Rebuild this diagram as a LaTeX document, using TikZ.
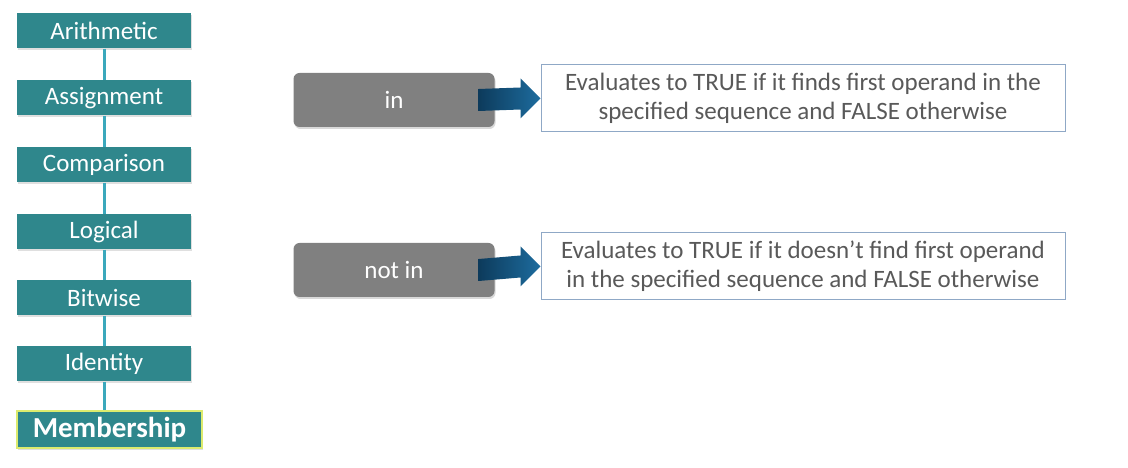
\documentclass[tikz,border=0pt]{standalone}
\usepackage{fontspec}
\setmainfont{Carlito}
\usetikzlibrary{calc,shadows}
\definecolor{opteal}{HTML}{2F878C}
\definecolor{oplink}{HTML}{3BA8BC}
\definecolor{opgray}{HTML}{808080}
\definecolor{opframe}{HTML}{8FA8C6}
\definecolor{optext}{HTML}{595959}
\definecolor{opdark}{HTML}{0D3B5C}
\definecolor{oplight}{HTML}{1D6C9E}
\definecolor{opglow}{HTML}{DCEB6E}

\tikzset{
    opbox/.style = {fill = opteal, text = white, rectangle, minimum width = 174pt, minimum height = 35pt, inner sep = 0pt, font = \fontsize{25}{30}\selectfont, drop shadow = {opacity = 0.25, shadow xshift = 1pt, shadow yshift = -2pt}},
    opsel/.style = {opbox, draw = opglow, line width = 2.5pt, minimum width = 185pt, minimum height = 37pt, font = \fontsize{29}{34}\selectfont\bfseries},
    keybox/.style = {fill = opgray, text = white, rectangle, rounded corners = 6pt, minimum width = 201pt, minimum height = 54pt, font = \fontsize{25}{30}\selectfont, drop shadow = {opacity = 0.3, shadow xshift = 1pt, shadow yshift = -2pt}},
    descbox/.style = {draw = opframe, line width = 1pt, fill = white, text = optext, rectangle, minimum width = 524pt, minimum height = 67pt, inner sep = 0pt, align = center, font = \fontsize{25}{29}\selectfont},
    link/.style = {draw = oplink, line width = 3pt},
    flow/.style = {left color = opdark, right color = oplight}
}

\begin{document}
\begin{tikzpicture}[x = 1pt, y = 1pt]
        \useasboundingbox (0, 0) rectangle (1128, 468);

        % Operator types
        \node [opbox] (arith) at (104, 437) {Arithmetic};
        \node [opbox] (assign) at (104, 370) {Assignment};
        \node [opbox] (compar) at (104, 303) {Comparison};
        \node [opbox] (logic) at (104, 236) {Logical};
        \node [opbox] (bitw) at (104, 170) {Bitwise};
        \node [opbox] (ident) at (104, 104) {Identity};
        \node [opsel] (member) at (109.5, 38.5) {Membership};

        % Links between the operator types
        \draw [link] (arith.south) -- (assign.north);
        \draw [link] (assign.south) -- (compar.north);
        \draw [link] (compar.south) -- (logic.north);
        \draw [link] (logic.south) -- (bitw.north);
        \draw [link] (bitw.south) -- (ident.north);
        \draw [link] (ident.south) -- (ident.south |- member.north);

        % Operators
        \node [keybox] (inop) at (394, 368) {in};
        \node [keybox] (notin) at (394, 198) {not in};

        % Meanings
        \node [descbox] (descin) at (803, 369.5) {Evaluates to TRUE if it finds first operand in the\\specified sequence and FALSE otherwise};
        \node [descbox] (descnot) at (803, 201.5) {Evaluates to TRUE if it doesn’t find first operand\\in the specified sequence and FALSE otherwise};

        % Arrows
        \shade [flow] ($(inop.east)+(-16, 11)$) -- ($(descin.west)+(-20, 11)$) -- ($(descin.west)+(-20, 20)$) -- (descin.west) -- ($(descin.west)+(-20, -20)$) -- ($(descin.west)+(-20, -11)$) -- ($(inop.east)+(-16, -11)$) -- cycle;
        \shade [flow] ($(notin.east)+(-16, 11)$) -- ($(descnot.west)+(-20, 11)$) -- ($(descnot.west)+(-20, 20)$) -- (descnot.west) -- ($(descnot.west)+(-20, -20)$) -- ($(descnot.west)+(-20, -11)$) -- ($(notin.east)+(-16, -11)$) -- cycle;

    \end{tikzpicture}
\end{document}
